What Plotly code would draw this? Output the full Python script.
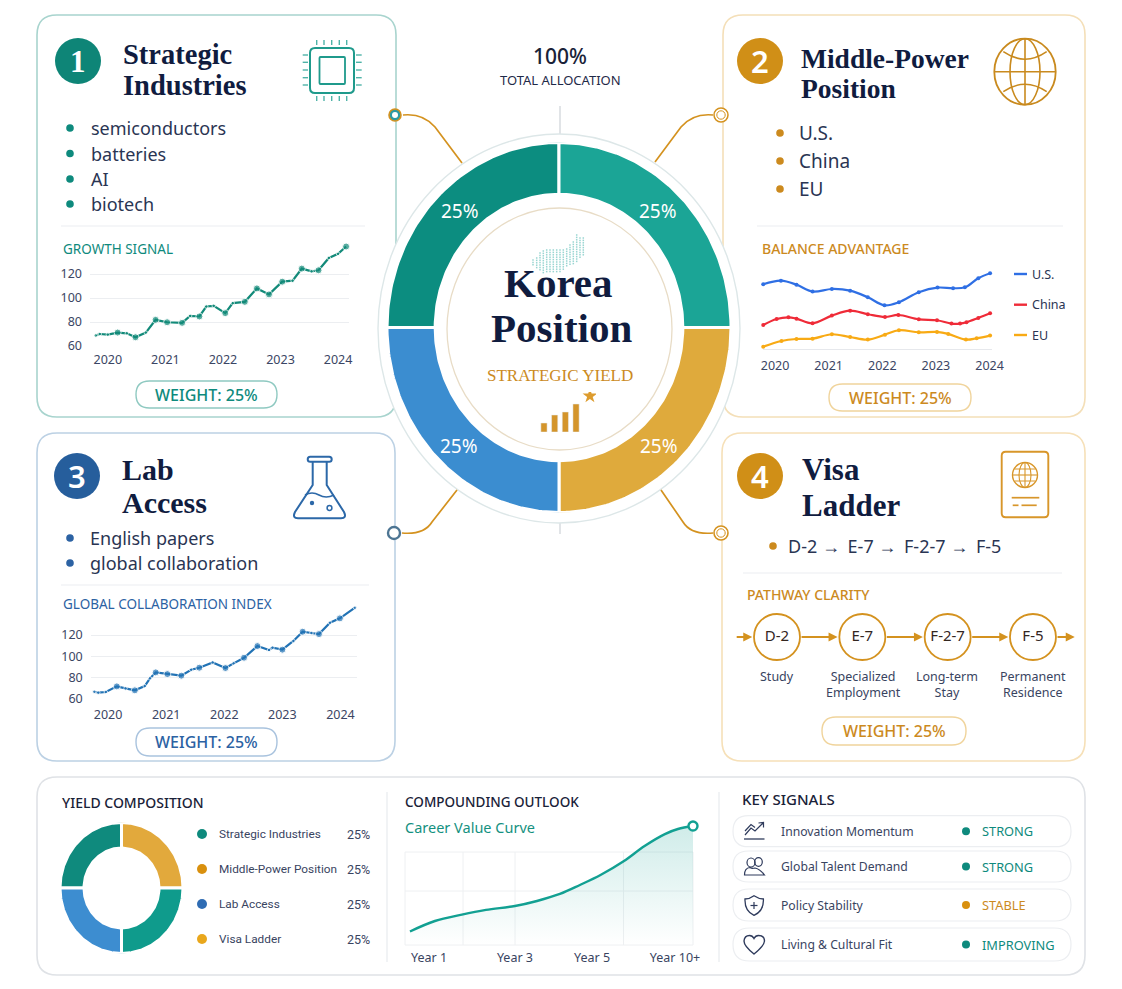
import numpy as np
import plotly.graph_objects as go

W, H = 1122, 989

# ---- data ----
CATEGORIES = ['Strategic Industries', 'Middle-Power Position', 'Visa Ladder', 'Lab Access']
SHARES = [25, 25, 25, 25]
LEGEND_ORDER = ['Strategic Industries', 'Middle-Power Position', 'Lab Access', 'Visa Ladder']
TICK_YEARS = [2020, 2021, 2022, 2023, 2024]

GROWTH_X = [2019.79, 2019.86, 2020.0, 2020.17, 2020.33, 2020.48, 2020.66, 2020.83, 2021.03, 2021.29,
            2021.43, 2021.59, 2021.71, 2021.84, 2022.04, 2022.17, 2022.38, 2022.59, 2022.80, 2023.03,
            2023.21, 2023.37, 2023.54, 2023.66, 2023.84, 2024.0, 2024.14]
GROWTH_Y = [68.7, 70.0, 69.5, 71.2, 70.6, 67.3, 71.2, 81.8, 79.8, 79.3, 85.1, 84.6, 92.9, 93.5, 87.4,
            95.7, 96.8, 108.0, 103.0, 113.6, 114.4, 124.5, 122.2, 123.1, 133.4, 136.8, 142.9]

COLLAB_X = [2019.76, 2019.83, 2019.96, 2020.15, 2020.30, 2020.46, 2020.63, 2020.72, 2020.82, 2021.02,
            2021.26, 2021.43, 2021.57, 2021.80, 2022.02, 2022.16, 2022.34, 2022.57, 2022.77, 2022.83,
            2023.0, 2023.19, 2023.35, 2023.50, 2023.63, 2023.82, 2023.99, 2024.25]
COLLAB_Y = [66.6, 65.7, 66.3, 71.6, 69.7, 67.9, 71.9, 79.2, 84.8, 83.2, 81.7, 87.3, 89.2, 94.2, 88.9,
            93.3, 98.6, 109.6, 105.9, 108.1, 106.2, 114.4, 123.1, 121.9, 120.9, 131.6, 135.7, 145.8]

US_X = [2019.78, 2020.11, 2020.40, 2020.70, 2021.06, 2021.40, 2021.73, 2022.04, 2022.31, 2022.68,
        2023.03, 2023.32, 2023.54, 2023.79, 2024.01]
US_Y = [81.3, 85.8, 80.8, 72.1, 75.4, 73.3, 65.0, 55.0, 58.8, 71.3, 77.1, 76.3, 77.5, 88.8, 95.0]
CHINA_X = [2019.78, 2020.03, 2020.25, 2020.40, 2020.70, 2021.06, 2021.40, 2021.73, 2022.05, 2022.30,
           2022.68, 2023.02, 2023.29, 2023.45, 2023.57, 2023.79, 2024.01]
CHINA_Y = [30.4, 37.9, 40.0, 38.3, 32.5, 42.1, 48.3, 43.8, 40.4, 42.9, 37.5, 36.3, 32.1, 32.1, 33.8, 39.2, 45.0]
EU_X = [2019.78, 2020.12, 2020.40, 2020.70, 2021.06, 2021.40, 2021.73, 2022.05, 2022.31, 2022.68,
        2023.02, 2023.23, 2023.56, 2023.76, 2024.01]
EU_Y = [3.3, 10.4, 12.9, 13.3, 18.8, 15.4, 12.1, 18.3, 23.8, 21.3, 21.7, 19.2, 12.1, 13.8, 17.1]

CAREER_X = [2.4, 11.0, 20.3, 28.6, 38.6, 46.2, 54.1, 61.0, 68.1, 76.2, 83.3, 90.3, 94.8, 100.0]
CAREER_Y = [11.0, 19.5, 24.7, 28.5, 31.7, 35.8, 41.5, 48.8, 56.9, 68.3, 80.5, 90.2, 94.3, 96.7]
CAREER_TICK_POS = [9, 38.6, 65.2, 93.8]
CAREER_TICKS = ['Year 1', 'Year 3', 'Year 5', 'Year 10+']

YIELD_BARS = [9, 17, 20, 28]

PATH_CODES = ['D-2', 'E-7', 'F-2-7', 'F-5']
PATH_LABELS = ['Study', 'Specialized<br>Employment', 'Long-term<br>Stay', 'Permanent<br>Residence']

SIGNAL_NAMES = ['Innovation Momentum', 'Global Talent Demand', 'Policy Stability', 'Living & Cultural Fit']
SIGNAL_STATUS = ['STRONG', 'STRONG', 'STABLE', 'IMPROVING']

# ---- colours and fonts ----
TEAL = '#0e8a7d'
GOLD = '#cc8a1e'
BLUE = '#2c62a3'
NAVY = '#101c3f'
INK = '#2a3553'
GRID = '#eceef1'
SANS = 'Noto Sans'
NARROW = 'Roboto'
SERIF = 'Liberation Serif'

# points drawn with a bigger dot in the two index charts
GROWTH_MAJOR = [3, 5, 7, 8, 9, 11, 14, 16, 17, 18, 19, 21, 23, 26]
COLLAB_MAJOR = [3, 5, 8, 9, 10, 12, 14, 16, 17, 20, 22, 24, 26]

fig = go.Figure()
shapes = []
notes = []


def line(x0, y0, x1, y1, color=GRID, width=1.2, dash='solid', layer='below'):
    shapes.append(dict(type='line', xref='x', yref='y', x0=x0, y0=y0, x1=x1, y1=y1, layer=layer,
                       line=dict(color=color, width=width, dash=dash)))


def path(d, color, width=1.8, fill='rgba(0,0,0,0)', layer='below'):
    shapes.append(dict(type='path', xref='x', yref='y', path=d, fillcolor=fill, layer=layer,
                       line=dict(color=color, width=width)))


def oval(cx, cy, rx, ry, color, width=1.5, fill='rgba(0,0,0,0)', layer='below'):
    shapes.append(dict(type='circle', xref='x', yref='y', x0=cx - rx, x1=cx + rx, y0=cy - ry, y1=cy + ry,
                       fillcolor=fill, layer=layer, line=dict(color=color, width=width)))


def dot(cx, cy, r, color):
    oval(cx, cy, r, r, color, 0, color)


def rrect(x0, y0, x1, y1, r):
    return (f'M{x0 + r},{y0} L{x1 - r},{y0} Q{x1},{y0} {x1},{y0 + r} L{x1},{y1 - r} Q{x1},{y1} {x1 - r},{y1} '
            f'L{x0 + r},{y1} Q{x0},{y1} {x0},{y1 - r} L{x0},{y0 + r} Q{x0},{y0} {x0 + r},{y0} Z')


def text(x, y, s, size=13, color=INK, family=SANS, anchor='left', weight=400):
    # annotations keep a 2px box padding, the shift takes it back out
    shift = {'left': -2, 'right': 2, 'center': 0}[anchor]
    notes.append(dict(xref='x', yref='y', x=x, y=y, text=s, showarrow=False, xanchor=anchor, yanchor='middle',
                      xshift=shift, font=dict(size=size, color=color, family=family, weight=weight), align='center'))


def add_axes(n, left, right, top, bottom, xrange, yrange, xopts=None, yopts=None):
    # each small chart gets its own axis pair, placed by pixel box
    # automargin off: the default template would otherwise shrink the whole canvas
    hidden = dict(visible=False, fixedrange=True, automargin=False)
    xa = dict(hidden, domain=[left / W, right / W], range=xrange, anchor=f'y{n}')
    ya = dict(hidden, domain=[1 - bottom / H, 1 - top / H], range=yrange, anchor=f'x{n}')
    xa.update(xopts or {})
    ya.update(yopts or {})
    fig.update_layout(**{f'xaxis{n}': xa, f'yaxis{n}': ya})


def year_axis(standoff):
    return dict(visible=True, tickmode='array', tickvals=TICK_YEARS, showgrid=False, zeroline=False,
                showline=False, ticks='', ticklabelstandoff=standoff,
                tickfont=dict(size=12.5, color='#3b4664', family=SANS))


def index_axis():
    return dict(visible=True, tickmode='array', tickvals=[60, 80, 100, 120], showgrid=True, gridcolor=GRID,
                gridwidth=1.2, zeroline=False, showline=False, ticks='', ticklabelstandoff=7,
                tickfont=dict(size=12.5, color='#3b4664', family=SANS))


def add_donut(n, colors, hole, box):
    # wedges are built from the shares and stretched by the axis box (the donuts are slightly oval)
    left, right, top, bottom = box
    add_axes(n, left, right, top, bottom, [-1, 1], [-1, 1])
    total = sum(SHARES)
    start = 0
    for name, share, color in zip(CATEGORIES, SHARES, colors):
        t = np.linspace(start, start + share, 80) / total * 2 * np.pi
        xs = np.concatenate([-np.cos(t), -hole * np.cos(t[::-1])])
        ys = np.concatenate([np.sin(t), hole * np.sin(t[::-1])])
        fig.add_trace(go.Scatter(x=np.append(xs, xs[0]), y=np.append(ys, ys[0]), mode='lines', fill='toself',
                                 fillcolor=color, line=dict(color='white', width=3), name=name,
                                 xaxis=f'x{n}', yaxis=f'y{n}', hoverinfo='name'))
        start += share


def card(x0, y0, x1, y1, border):
    path(rrect(x0, y0, x1, y1, 20), border, 1.6, 'white')


def badge(cx, cy, s, color, family=SANS):
    dot(cx, cy, 23, color)
    text(cx, cy, s, 31, 'white', family, 'center', 600)


def weight_pill(x0, y0, x1, y1, color, border, share):
    path(rrect(x0, y0, x1, y1, (y1 - y0) / 2), border, 1.4, 'white')
    text((x0 + x1) / 2, (y0 + y1) / 2, f'WEIGHT: {share}%', 16, color, SANS, 'center', 500)


# ---- cards ----
card(37, 15, 396, 417, '#a8d4ce')
card(723, 15, 1085, 417, '#f4dfb8')
card(37, 433, 395, 761, '#bcd1e4')
card(722, 433, 1085, 761, '#f6e0b8')
card(37, 777, 1085, 975, '#dfe2e6')

badge(78, 61, '1', '#0e8577', SERIF)
badge(760, 61, '2', '#d08f17')
badge(77, 476, '3', '#265e9c')
badge(760, 476, '4', '#d08f17')

for x, y, s, size in [(123, 54, 'Strategic', 28.5), (123, 85, 'Industries', 28.5), (801, 58, 'Middle-Power', 27.5),
                      (801, 88, 'Position', 27.5), (122, 469, 'Lab', 30), (122, 502, 'Access', 30),
                      (802, 469, 'Visa', 31), (802, 505, 'Ladder', 31)]:
    text(x, y, s, size, NAVY, SERIF, 'left', 700)

for y, s in zip([128, 153.5, 179, 204], ['semiconductors', 'batteries', 'AI', 'biotech']):
    dot(70, y, 3.8, TEAL)
    text(91, y, s, 18, INK)
for y, s in zip([133, 161, 189], ['U.S.', 'China', 'EU']):
    dot(780, y, 3.8, GOLD)
    text(799, y, s, 19, INK)
for y, s in zip([538, 563], ['English papers', 'global collaboration']):
    dot(70, y, 3.8, BLUE)
    text(90, y, s, 18, INK)
dot(773, 546, 3.8, GOLD)
text(788, 546, '\u00a0\u2192\u00a0\u2009'.join(PATH_CODES), 18, INK)

line(61, 226, 365, 226)
line(757, 226, 1063, 226)
line(61, 585, 369, 585)
line(743, 573, 1062, 573)

text(63, 249, 'GROWTH SIGNAL', 13.5, TEAL)
text(762, 248, 'BALANCE ADVANTAGE', 14, GOLD, SANS, 'left', 500)
text(63, 604, 'GLOBAL COLLABORATION INDEX', 13.5, BLUE)
text(747, 594, 'PATHWAY CLARITY', 14, GOLD, SANS, 'left', 500)

weight_pill(136, 381, 277, 408, TEAL, '#8fc9c1', SHARES[0])
weight_pill(829, 384, 971, 411, GOLD, '#f0d49c', SHARES[1])
weight_pill(136, 728, 277, 756, BLUE, '#a9c3de', SHARES[2])
weight_pill(822, 717, 966, 745, GOLD, '#f0d49c', SHARES[3])

# ---- card icons ----
chip = '#1f9a8c'
path(rrect(310, 48, 354, 93, 5), chip, 2)
path(rrect(319.5, 57, 345, 84, 1), chip, 1.8)
for x in [316.7, 324, 331.7, 339.3, 346.7]:
    line(x, 40, x, 45, '#4fb3a8', 1.4)
    line(x, 96, x, 101, '#4fb3a8', 1.4)
for y in [55, 62.3, 70, 77.7, 85]:
    line(302.7, y, 308, y, '#4fb3a8', 1.4)
    line(356, y, 361.7, y, '#4fb3a8', 1.4)

globe = '#c98a1e'
oval(1025, 71.7, 30.7, 33, globe, 1.8)
oval(1025, 71.7, 15, 33, globe, 1.6)
line(1025, 38.7, 1025, 104.7, globe, 1.6)
line(994.3, 71.7, 1055.7, 71.7, globe, 1.6)
path('M1003.3,51.7 Q1025,66.7 1046.7,51.7', globe, 1.6)
path('M1003.3,91.7 Q1025,76.7 1046.7,91.7', globe, 1.6)

flask = '#2c68a8'
path('M312.7,461.7 L312.7,485 L295,512 Q292,518.3 298,518.3 L341,518.3 Q347,518.3 344,512 L326.7,485 L326.7,461.7',
     flask, 2)
path(rrect(307.7, 456.7, 331.7, 461.7, 2.5), flask, 2)
path('M305,495 Q312,491 319,495 Q326,499 334,495', flask, 1.6)
dot(312, 503, 2.2, flask)
oval(329.5, 508, 2.4, 2.4, flask, 1.5)

passport = '#d8962a'
path(rrect(1001.7, 451.7, 1048.3, 517.3, 4), passport, 1.9)
oval(1025, 475, 12.5, 12.5, passport, 1.4)
oval(1025, 475, 6, 12.5, passport, 1.1)
line(1012.5, 475, 1037.5, 475, passport, 1.1)
line(1025, 462.5, 1025, 487.5, passport, 1.1)
line(1014.5, 469, 1035.5, 469, passport, 1)
line(1014.5, 481, 1035.5, 481, passport, 1)
line(1011.7, 497.7, 1039.3, 497.7, passport, 1.7)
line(1012.7, 505.3, 1018.5, 505.3, passport, 1.7)
line(1021.5, 505.3, 1036.7, 505.3, passport, 1.7)

# ---- centre decoration ----
line(560, 106, 560, 134, '#c9ced4', 1.1)
line(560, 523, 560, 534, '#c9ced4', 1.1)
oval(559, 328.5, 181, 194.5, '#dde7e8', 1.4, 'white')
oval(559.5, 329, 112.5, 121, '#e8dcc6', 1.3, 'white')

connector = '#d4921f'
path('M403,115 Q423,113 435,127 L462,163', connector, 1.7)
path('M713,115 Q693,113 681,127 L655,162', connector, 1.7)
path('M402,533 Q424,535 432,522 L457,490', connector, 1.7)
path('M713,533 Q691,535 683,522 L661,490', connector, 1.7)
oval(395, 115, 6, 6, connector, 1.6, '#2b9aa5')
dot(395, 115, 3, 'white')
oval(721, 115, 7, 7, connector, 1.5, 'white')
oval(721, 115, 4.2, 4.2, connector, 1, 'white')
oval(394, 533, 6, 6, '#4d7593', 2.4, 'white')
oval(721, 533, 7, 7, connector, 1.6, 'white')
oval(721, 533, 4.2, 4.2, connector, 1, 'white')

text(560, 56, '100%', 21, '#1a2238', SANS, 'center', 500)
text(560, 80, 'TOTAL ALLOCATION', 13, '#1f2a48', SANS, 'center')
text(558, 283, 'Korea', 41, NAVY, SERIF, 'center', 700)
text(561, 328, 'Position', 41, NAVY, SERIF, 'center', 700)
text(560, 375, 'STRATEGIC YIELD', 17, '#cb8a22', SERIF, 'center', 500)

for x, y, s in zip([460, 658, 659, 459], [211, 211, 446, 446], SHARES):
    text(x, y, f'{s}%', 19, 'white', SANS, 'center')

# ---- canvas axis used by all decoration above ----
fig.update_layout(xaxis=dict(visible=False, domain=[0, 1], range=[0, W], fixedrange=True, anchor='y', automargin=False),
                  yaxis=dict(visible=False, domain=[0, 1], range=[H, 0], fixedrange=True, anchor='x', automargin=False))

# ---- big donut ----
add_donut(2, ['#0c8d80', '#1ba596', '#dfaa3c', '#3b8dd0'], 0.72, (387, 731, 142.5, 512.5))

# ---- dotted map above the title (column: x, top, bottom) ----
MAP_COLS = [(533, 260, 267), (536.7, 258, 270), (540, 253, 272), (543.3, 251, 273), (546.7, 250, 273),
            (550, 250, 273), (553.3, 250, 273), (556.7, 250, 272), (560, 250, 272), (563.3, 250, 270),
            (566.7, 249, 268), (570, 245, 266), (573.3, 242, 265), (576.7, 235, 263), (580, 238, 258),
            (583.3, 238, 256)]
map_x, map_y = [], []
for cx, top, bottom in MAP_COLS:
    for y in np.arange(top, bottom, 2.4):
        map_x.append(cx)
        map_y.append(y)
fig.add_trace(go.Scatter(x=map_x, y=map_y, mode='markers', hoverinfo='skip', xaxis='x', yaxis='y',
                         marker=dict(symbol='square', size=1.5, color='#6cc3be', opacity=0.7)))

# ---- yield bars with the star ----
add_axes(3, 538, 596, 392, 432, [-0.56, 4.87], [0, 40])
fig.add_trace(go.Bar(x=[0, 1, 2, 3], y=YIELD_BARS, marker_color='#d4952b', width=0.58, xaxis='x3', yaxis='y3',
                     hoverinfo='skip'))
fig.add_trace(go.Scatter(x=[4.3], y=[36], mode='markers', marker=dict(symbol='star', size=11, color='#dd9c2e'),
                         xaxis='x3', yaxis='y3', hoverinfo='skip'))

# ---- growth signal ----
add_axes(4, 90, 349, 244, 346, [2019.69, 2024.19], [60, 145], year_axis(4), index_axis())
growth_sizes = [7 if i in GROWTH_MAJOR else 3.5 for i in range(len(GROWTH_X))]
fig.add_trace(go.Scatter(x=GROWTH_X, y=GROWTH_Y, mode='lines+markers', xaxis='x4', yaxis='y4', cliponaxis=False,
                         line=dict(color='#128a79', width=2.2), marker=dict(size=growth_sizes, color='#128a79')))

# ---- balance advantage ----
add_axes(5, 762.7, 991.7, 269.3, 349.3, [2019.77, 2024.04], [0, 100],
         dict(year_axis(5), showline=True, linecolor='#e6e8ec', linewidth=1.2), dict(visible=False))
for xs, ys, color in [(US_X, US_Y, '#2f6fe4'), (CHINA_X, CHINA_Y, '#ef2b38'), (EU_X, EU_Y, '#f8aa14')]:
    fig.add_trace(go.Scatter(x=xs, y=ys, mode='lines+markers', xaxis='x5', yaxis='y5', cliponaxis=False,
                             line=dict(color=color, width=2.2, shape='spline'), marker=dict(size=4, color=color)))
for y, s, color in zip([274, 304.7, 335], ['U.S.', 'China', 'EU'], ['#2f6fe4', '#ef2b38', '#f8aa14']):
    line(1014, y, 1027, y, color, 2.4)
    text(1032, y, s, 12.5, INK)

# ---- global collaboration ----
add_axes(6, 90.7, 357.3, 605, 698.7, [2019.70, 2024.29], [60, 148.3], year_axis(7), index_axis())
collab_sizes = [7 if i in COLLAB_MAJOR else 3.5 for i in range(len(COLLAB_X))]
fig.add_trace(go.Scatter(x=COLLAB_X, y=COLLAB_Y, mode='lines+markers', xaxis='x6', yaxis='y6', cliponaxis=False,
                         line=dict(color='#2273b5', width=2.2), marker=dict(size=collab_sizes, color='#2273b5')))

# ---- visa pathway ----
add_axes(7, 734, 1077, 614, 660, [-0.504, 3.516], [-1, 1])
for x0, x1 in [(-0.49, -0.29), (0.27, 0.71), (1.27, 1.71), (2.27, 2.71), (3.27, 3.49)]:
    fig.add_annotation(xref='x7', yref='y7', axref='x7', ayref='y7', x=x1, y=0, ax=x0, ay=0, text='',
                       arrowcolor='#d4921f', arrowwidth=1.8, arrowhead=2, arrowsize=1, standoff=0)
fig.add_trace(go.Scatter(x=[0, 1, 2, 3], y=[0, 0, 0, 0], mode='markers+text', text=PATH_CODES, xaxis='x7', yaxis='y7',
                         textposition='middle center', cliponaxis=False, hoverinfo='skip',
                         textfont=dict(size=15, color='#33261f', family=SANS),
                         marker=dict(size=46, color='white', line=dict(color='#d4921f', width=1.8))))
for x, s in zip([777, 863, 947, 1033], PATH_LABELS):
    text(x, 684 if '<br>' in s else 676, s, 12.5, '#39445f', SANS, 'center')

# ---- bottom strip: yield composition ----
line(387, 792, 387, 962, '#e8ebef', 1.2)
line(719, 792, 719, 962, '#e8ebef', 1.2)
text(62, 802, 'YIELD COMPOSITION', 14, '#1a2238', SANS, 'left', 500)
add_donut(8, ['#0f8a7d', '#e2a93c', '#0f9b8c', '#3d8dd0'], 0.61, (60, 183, 822.5, 953.5))
for y, s, color, share in zip([834, 869, 904, 939], LEGEND_ORDER, ['#0e8a7d', '#d9900e', '#2f6cb3', '#e9a71c'], SHARES):
    dot(202, y, 5, color)
    text(219, y, s, 11.8, '#39445f', NARROW)
    text(370, y, f'{share}%', 12.5, '#39445f', NARROW, 'right')

# ---- bottom strip: compounding outlook ----
text(405, 802, 'COMPOUNDING OUTLOOK', 13.5, '#1a2238', SANS, 'left', 500)
text(405, 827, 'Career Value Curve', 14.5, '#15917f')
for x in [405, 463, 515, 623.5, 693]:
    line(x, 852, x, 945, '#eef0f2', 1)
for y in [852, 891, 945]:
    line(405, y, 693, y, '#eef0f2', 1)
add_axes(9, 403, 693, 822, 945, [0, 100], [0, 100],
         dict(visible=True, tickmode='array', tickvals=CAREER_TICK_POS, ticktext=CAREER_TICKS, showgrid=False,
              zeroline=False, ticks='', ticklabelstandoff=3, tickfont=dict(size=12.5, color='#39445f', family=SANS)))
fig.add_trace(go.Scatter(x=CAREER_X, y=CAREER_Y, mode='lines', xaxis='x9', yaxis='y9', fill='tozeroy',
                         cliponaxis=False, line=dict(color='#12a092', width=2.4, shape='spline'),
                         fillgradient=dict(type='vertical',
                                           colorscale=[[0, 'rgba(18,160,146,0)'], [1, 'rgba(18,160,146,0.2)']])))
fig.add_trace(go.Scatter(x=CAREER_X[-1:], y=CAREER_Y[-1:], mode='markers', xaxis='x9', yaxis='y9', cliponaxis=False,
                         marker=dict(size=9, color='white', line=dict(color='#12a092', width=2.4))))

# ---- bottom strip: key signals ----
text(742, 799, 'KEY SIGNALS', 15, '#1a2238', SANS, 'left', 500)
pill_tops = [815.6, 851, 889, 928]
pill_bottoms = [846.7, 882, 921, 961]
for top, bottom, name, status in zip(pill_tops, pill_bottoms, SIGNAL_NAMES, SIGNAL_STATUS):
    y = (top + bottom) / 2
    path(rrect(733, top, 1071, bottom, (bottom - top) / 2), '#eceef1', 1.2, 'white')
    color = GOLD if status == 'STABLE' else TEAL
    text(781, y, name, 12.2, '#39445f')
    dot(966, y, 4, '#d9900e' if status == 'STABLE' else TEAL)
    text(982, y, status, 12.8, color)

icon = '#2f3b5c'
path('M745,835 L751,828 L755,831 L763,823 M758.5,823 L763.5,822.5 L763.5,827.5 M745,831 L751,824.5 L755,827.5', icon, 1.2)
line(744, 839, 764.5, 839, icon, 1.3)
oval(751, 862.5, 4, 4.5, icon, 1.2)
oval(758.5, 862, 3.8, 4.3, icon, 1.2)
path('M744.5,875 Q744.5,868 750,867.5 Q752,869 755,868 Q760,869 764.5,875 Z', icon, 1.2)
path('M754,895.7 Q759,899 763.4,899 Q764,911 754,915.3 Q744.5,911 745,899 Q749.5,899 754,895.7 Z', icon, 1.3)
line(754, 902, 754, 909, icon, 1.2)
line(750.5, 905.5, 757.5, 905.5, icon, 1.2)
path('M754,954 Q744,946 744,941 Q744.5,935.5 749.5,935.5 Q752.5,935.5 754,938.5 Q755.5,935.5 758.5,935.5 '
     'Q764.5,935.5 764.5,941 Q764,946 754,954 Z', icon, 1.4)

fig.update_layout(width=W, height=H, margin=dict(l=0, r=0, t=0, b=0), showlegend=False, autosize=False,
                  paper_bgcolor='white', plot_bgcolor='rgba(0,0,0,0)', shapes=shapes,
                  annotations=list(fig.layout.annotations) + notes, barmode='overlay')

# the default page keeps the browser's 8px body margin, which would push the figure out of the window
fig.write_html("out.html", config={'displayModeBar': False}, post_script="document.body.style.margin = '0';")
